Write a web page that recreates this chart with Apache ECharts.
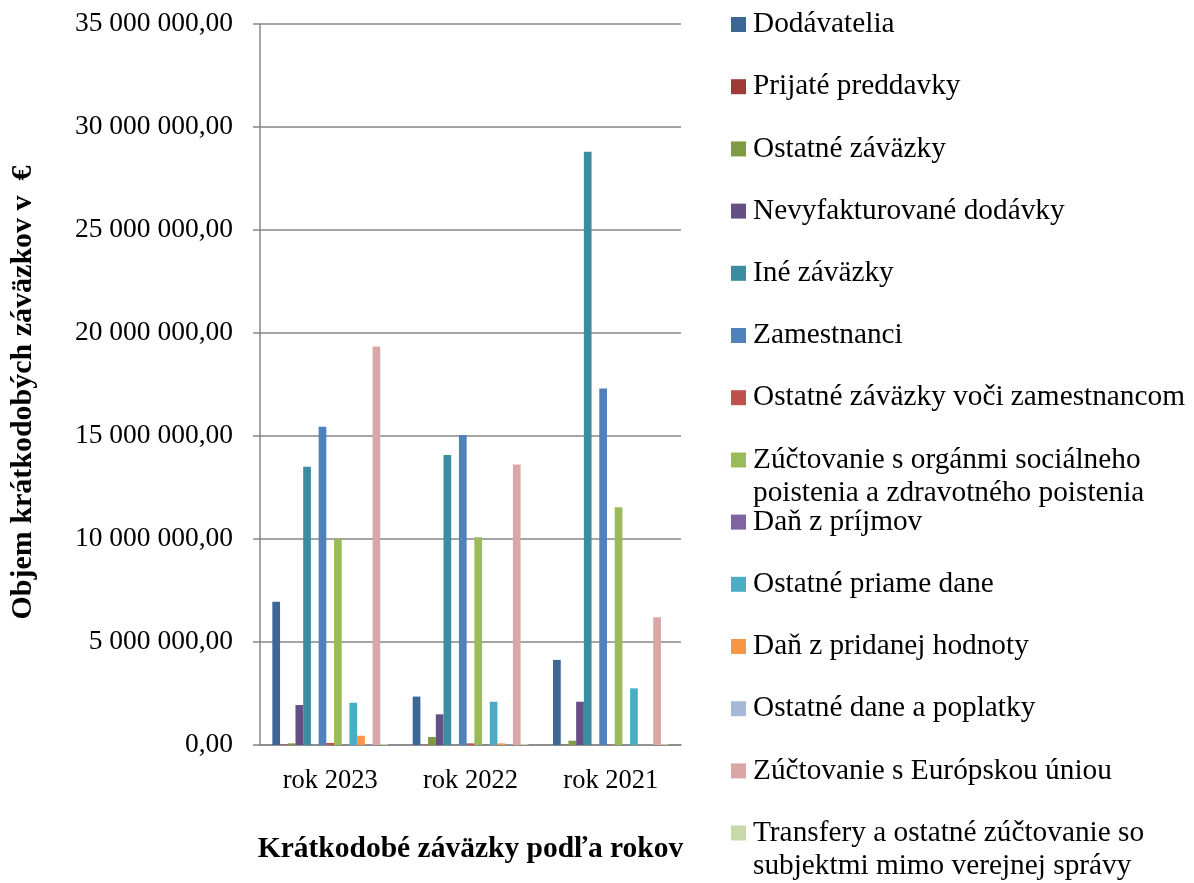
<!DOCTYPE html>
<html>
<head>
<meta charset="utf-8">
<script src="https://cdn.jsdelivr.net/npm/echarts@6/dist/echarts.min.js"></script>
<style>
html,body{margin:0;padding:0;background:#fff;}
#chart{width:1194px;height:883px;}
</style>
</head>
<body>
<div id="chart"></div>
<script>
// ---- data ----
const categories = ['rok 2023', 'rok 2022', 'rok 2021'];

const seriesNames = [
  'Dodávatelia',
  'Prijaté preddavky',
  'Ostatné záväzky',
  'Nevyfakturované dodávky',
  'Iné záväzky',
  '(bez názvu)',
  'Zamestnanci',
  'Ostatné záväzky voči zamestnancom',
  'Zúčtovanie s orgánmi sociálneho\npoistenia a zdravotného poistenia',
  'Daň z príjmov',
  'Ostatné priame dane',
  'Daň z pridanej hodnoty',
  'Ostatné dane a poplatky',
  'Zúčtovanie s Európskou úniou',
  'Transfery a ostatné zúčtovanie so\nsubjektmi mimo verejnej správy'
];

const dodavatelia        = [6950000, 2350000, 4130000];
const prijatePreddavky   = [20000, 10000, 10000];
const ostatneZavazky     = [80000, 390000, 210000];
const nevyfakturovane    = [1940000, 1490000, 2100000];
const ineZavazky         = [13510000, 14080000, 28800000];
const bezNazvu           = [0, 0, 0];
const zamestnanci        = [15450000, 15050000, 17310000];
const ostatneVociZam     = [100000, 80000, 10000];
const zuctovanieSoc      = [9990000, 10080000, 11540000];
const danZPrijmov        = [10000, 10000, 10000];
const ostatnePriameDane  = [2050000, 2100000, 2750000];
const danZPridanejHod    = [450000, 80000, 10000];
const ostatneDane        = [10000, 10000, 10000];
const zuctovanieEU       = [19340000, 13620000, 6200000];
const transfery          = [50000, 50000, 40000];

const seriesValues = [
  dodavatelia, prijatePreddavky, ostatneZavazky, nevyfakturovane, ineZavazky,
  bezNazvu, zamestnanci, ostatneVociZam, zuctovanieSoc, danZPrijmov,
  ostatnePriameDane, danZPridanejHod, ostatneDane, zuctovanieEU, transfery
];

const yTicks = { min: 0, max: 35000000, interval: 5000000 };

// ---- styles ----
const colors = [
  '#3C6696', '#9E3B38', '#7E9A42', '#664F85', '#3A8CA0',
  '#D67E2E', '#4F81BD', '#C0504D', '#9BBB59', '#8064A2',
  '#4BACC6', '#F79646', '#A7B9D9', '#D9A7A6', '#C7D8AB'
];

const FONT = '"Liberation Serif", "Times New Roman", serif';
const LEG_FS = 29.3;
const LEG_LH = 33;

function fmt(v) {
  const s = Math.round(v).toString().replace(/\B(?=(\d{3})+(?!\d))/g, ' ');
  return s + ',00';
}

const series = seriesNames.map((name, i) => ({
  name: name,
  type: 'bar',
  data: seriesValues[i],
  barGap: '0%',
  barCategoryGap: '17.6%',
  itemStyle: { color: colors[i] },
  emphasis: { disabled: true }
}));

const legendNames = seriesNames.filter((n, i) => i !== 5);

// square at the top of a taller icon box, so it lines up with the first text line
const TALL_ICON = 'path://M0 0h15v15h-15z M0 48h0.02v0.02h-0.02z';

const legends = legendNames.map((name, k) => {
  const twoLine = name.indexOf('\n') >= 0;
  const iconY = 24.5 + 62.2 * k;
  return {
    orient: 'vertical',
    left: 731,
    top: iconY - LEG_LH / 2,
    padding: 0,
    itemWidth: 15,
    itemHeight: twoLine ? 48.02 : 15,
    icon: twoLine ? TALL_ICON : 'rect',
    symbolKeepAspect: false,
    selectedMode: false,
    data: [name],
    textStyle: {
      fontFamily: FONT, fontSize: LEG_FS, color: '#000', lineHeight: LEG_LH,
      padding: [0, 0, 0, 2]
    }
  };
});

const option = {
  animation: false,
  textStyle: { fontFamily: FONT },
  grid: { left: 260, right: 513, top: 24, bottom: 138, containLabel: false },
  legend: legends,
  xAxis: {
    type: 'category',
    data: categories,
    name: 'Krátkodobé záväzky podľa rokov',
    nameLocation: 'middle',
    nameGap: 89,
    nameTextStyle: { fontFamily: FONT, fontSize: 29.5, fontWeight: 'bold', color: '#000' },
    axisLine: { show: true, lineStyle: { color: '#868686', width: 1.5 } },
    axisTick: { show: false },
    axisLabel: { fontFamily: FONT, fontSize: 26.5, color: '#000', margin: 23 },
    splitLine: { show: false }
  },
  yAxis: {
    type: 'value',
    min: yTicks.min,
    max: yTicks.max,
    interval: yTicks.interval,
    name: 'Objem krátkodobých záväzkov v  €',
    nameLocation: 'middle',
    nameGap: 222,
    nameRotate: 90,
    nameTextStyle: { fontFamily: FONT, fontSize: 30, fontWeight: 'bold', color: '#000', padding: [0, 16, 0, 0] },
    axisLine: { show: true, lineStyle: { color: '#868686', width: 1.5 } },
    axisTick: { show: true, inside: false, length: 7, lineStyle: { color: '#868686', width: 1.5 } },
    axisLabel: { fontFamily: FONT, fontSize: 27.5, color: '#000', margin: 27, formatter: fmt },
    splitLine: { show: true, lineStyle: { color: '#868686', width: 1.5 } }
  },
  series: series
};

const chart = echarts.init(document.getElementById('chart'), null, { renderer: 'canvas' });
chart.setOption(option);
</script>
</body>
</html>
